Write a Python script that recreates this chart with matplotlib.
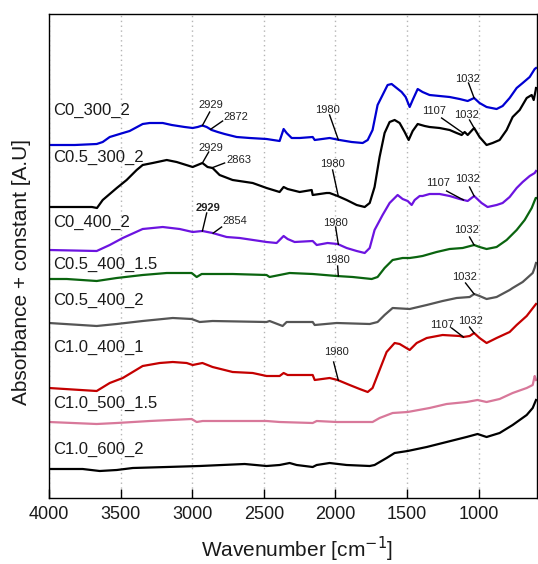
import numpy as np
import matplotlib
matplotlib.use("Agg")
import matplotlib.pyplot as plt

plt.rcParams['font.family'] = ['Liberation Sans', 'DejaVu Sans']

# ---- FTIR spectra (absorbance + vertical offset) ----
samples = ["C0_300_2", "C0.5_300_2", "C0_400_2", "C0.5_400_1.5",
           "C0.5_400_2", "C1.0_400_1", "C1.0_500_1.5", "C1.0_600_2"]
colors = ["#0000d2", "#000000", "#6c14e0", "#0a640f",
          "#555555", "#c40000", "#d8789a", "#000000"]

wn_c0_300_2 = [4000, 3820, 3667, 3625, 3576, 3507, 3437, 3346, 3297, 3206, 3143, 3053, 2997, 2962, 2929,
               2899, 2864, 2822, 2774, 2690, 2599, 2481, 2390, 2362, 2341, 2306, 2250, 2159, 2145, 2041,
               1971, 1887, 1810, 1775, 1741, 1706, 1671, 1636, 1608, 1573, 1538, 1510, 1482, 1461, 1426,
               1392, 1343, 1273, 1203, 1133, 1077, 1032, 994, 945, 875, 833, 784, 735, 693, 644, 609, 600]
ab_c0_300_2 = [3.53, 3.53, 3.54, 3.56, 3.61, 3.64, 3.67, 3.74, 3.75, 3.75, 3.73, 3.71, 3.70, 3.71, 3.725,
               3.71, 3.68, 3.66, 3.64, 3.61, 3.60, 3.59, 3.57, 3.69, 3.65, 3.60, 3.60, 3.61, 3.58, 3.60,
               3.58, 3.56, 3.55, 3.58, 3.68, 3.93, 4.03, 4.13, 4.14, 4.10, 4.06, 4.01, 3.91, 3.98, 4.09,
               4.06, 4.03, 4.02, 4.01, 3.99, 3.97, 4.00, 3.95, 3.91, 3.89, 3.92, 4.00, 4.10, 4.15, 4.21, 4.29, 4.30]

wn_c05_300_2 = [4000, 3700, 3665, 3625, 3527, 3458, 3388, 3346, 3276, 3178, 3109, 2997, 2929, 2893, 2858,
                2809, 2718, 2578, 2481, 2390, 2362, 2334, 2250, 2166, 2159, 2062, 2041, 1985, 1922, 1852,
                1796, 1761, 1727, 1692, 1657, 1622, 1587, 1552, 1517, 1489, 1461, 1426, 1377, 1343, 1273,
                1203, 1154, 1119, 1098, 1077, 1032, 994, 945, 903, 854, 805, 763, 714, 665, 630, 616, 602, 600]
ab_c05_300_2 = [2.91, 2.91, 2.90, 2.98, 3.10, 3.18, 3.28, 3.33, 3.35, 3.38, 3.36, 3.31, 3.35, 3.31, 3.30,
                3.23, 3.18, 3.15, 3.10, 3.06, 3.11, 3.09, 3.06, 3.08, 3.03, 3.05, 3.05, 3.02, 2.98, 2.93,
                2.91, 2.95, 3.11, 3.41, 3.65, 3.76, 3.78, 3.75, 3.66, 3.58, 3.67, 3.74, 3.72, 3.71, 3.70,
                3.68, 3.65, 3.63, 3.66, 3.63, 3.70, 3.61, 3.53, 3.55, 3.58, 3.68, 3.81, 3.88, 4.00, 4.03, 3.98, 4.08, 4.10]

wn_c0_400_2 = [4000, 3667, 3576, 3485, 3346, 3206, 3088, 2997, 2929, 2858, 2760, 2669, 2481, 2411, 2362,
               2334, 2285, 2159, 2131, 2055, 1985, 1922, 1852, 1796, 1761, 1727, 1671, 1622, 1566, 1531,
               1496, 1468, 1447, 1412, 1392, 1343, 1273, 1203, 1133, 1077, 1032, 980, 938, 875, 833,
               784, 735, 693, 644, 609, 600]
ab_c0_400_2 = [2.48, 2.47, 2.53, 2.60, 2.69, 2.71, 2.69, 2.66, 2.67, 2.65, 2.61, 2.60, 2.56, 2.55, 2.62,
               2.59, 2.56, 2.57, 2.53, 2.55, 2.54, 2.50, 2.47, 2.45, 2.50, 2.68, 2.83, 2.95, 3.03, 2.99,
               2.97, 2.93, 2.98, 3.02, 3.02, 3.04, 3.04, 3.02, 2.99, 2.97, 3.02, 2.95, 2.91, 2.93, 2.95,
               3.01, 3.10, 3.16, 3.22, 3.25, 3.27]

wn_c05_400_15 = [4000, 3876, 3667, 3527, 3346, 3178, 3004, 2969, 2934, 2718, 2481, 2460, 2320, 2159, 1992,
                 1880, 1747, 1706, 1657, 1601, 1531, 1482, 1433, 1392, 1294, 1203, 1112, 1032, 994, 945,
                 875, 805, 735, 679, 630, 602, 600]
ab_c05_400_15 = [2.19, 2.19, 2.17, 2.20, 2.23, 2.25, 2.25, 2.21, 2.24, 2.24, 2.23, 2.21, 2.25, 2.24, 2.22,
                 2.21, 2.19, 2.21, 2.30, 2.38, 2.40, 2.40, 2.41, 2.42, 2.46, 2.49, 2.50, 2.53, 2.51, 2.49,
                 2.51, 2.58, 2.68, 2.78, 2.90, 3.00, 3.00]

wn_c05_400_2 = [4000, 3667, 3527, 3346, 3136, 3004, 2948, 2858, 2481, 2460, 2369, 2341, 2159, 2145, 1992,
                1761, 1706, 1657, 1601, 1482, 1363, 1252, 1154, 1063, 1032, 994, 945, 875, 784, 763,
                693, 623, 610, 600]
ab_c05_400_2 = [1.75, 1.72, 1.74, 1.77, 1.80, 1.79, 1.76, 1.77, 1.76, 1.77, 1.72, 1.76, 1.76, 1.73, 1.75,
                1.74, 1.76, 1.83, 1.90, 1.89, 1.93, 1.97, 2.00, 2.01, 2.04, 2.02, 1.99, 2.01, 2.08, 2.10,
                2.16, 2.25, 2.30, 2.35]

wn_c10_400_1 = [4000, 3667, 3576, 3485, 3346, 3227, 3136, 3039, 2997, 2929, 2858, 2718, 2578, 2481, 2390,
                2362, 2334, 2159, 2145, 2041, 1985, 1901, 1831, 1775, 1741, 1692, 1643, 1587, 1552, 1517,
                1482, 1433, 1363, 1252, 1133, 1107, 1063, 1032, 994, 945, 875, 784, 735, 665, 600]
ab_c10_400_1 = [1.10, 1.07, 1.15, 1.20, 1.32, 1.35, 1.36, 1.35, 1.33, 1.35, 1.31, 1.26, 1.25, 1.22, 1.22,
                1.25, 1.23, 1.23, 1.18, 1.20, 1.18, 1.13, 1.09, 1.06, 1.10, 1.28, 1.46, 1.55, 1.54, 1.51,
                1.48, 1.55, 1.60, 1.63, 1.62, 1.61, 1.62, 1.65, 1.60, 1.55, 1.60, 1.66, 1.73, 1.82, 1.94]

wn_c10_500_15 = [4000, 3667, 3527, 3297, 3004, 2969, 2927, 2481, 2390, 2159, 2131, 1992, 1741, 1692, 1601,
                 1496, 1343, 1224, 1085, 1008, 945, 854, 763, 665, 623, 609, 600]
ab_c10_500_15 = [0.76, 0.74, 0.75, 0.77, 0.79, 0.76, 0.77, 0.77, 0.76, 0.75, 0.77, 0.76, 0.76, 0.80, 0.85,
                 0.86, 0.90, 0.94, 0.96, 0.98, 0.96, 0.99, 1.05, 1.10, 1.13, 1.22, 1.18]

wn_c10_600_2 = [4000, 3765, 3646, 3527, 3415, 3178, 2948, 2634, 2481, 2390, 2320, 2271, 2159, 2131, 2041,
                1922, 1761, 1727, 1643, 1587, 1496, 1363, 1224, 1085, 1008, 945, 854, 763, 665, 623, 600]
ab_c10_600_2 = [0.29, 0.29, 0.27, 0.28, 0.30, 0.31, 0.32, 0.34, 0.32, 0.33, 0.35, 0.33, 0.31, 0.33, 0.35,
                0.33, 0.32, 0.33, 0.40, 0.45, 0.47, 0.51, 0.56, 0.61, 0.64, 0.61, 0.65, 0.73, 0.83, 0.90, 0.98]

spectra = [(wn_c0_300_2, ab_c0_300_2), (wn_c05_300_2, ab_c05_300_2),
           (wn_c0_400_2, ab_c0_400_2), (wn_c05_400_15, ab_c05_400_15),
           (wn_c05_400_2, ab_c05_400_2), (wn_c10_400_1, ab_c10_400_1),
           (wn_c10_500_15, ab_c10_500_15), (wn_c10_600_2, ab_c10_600_2)]

# sample name positions (wavenumber, y)
label_x = 3968
label_y = [3.88, 3.41, 2.76, 2.34, 1.98, 1.51, 0.95, 0.49]

# peak annotations: (spectrum index, peak wavenumber, text x, text y, leader start x, leader start y, bold)
peaks = [
    (0, 2929, 2871, 3.93, 2878, 3.86, False),
    (0, 2872, 2697, 3.81, 2788, 3.77, False),
    (0, 1980, 2055, 3.88, 2041, 3.83, False),
    (0, 1032, 1078, 4.19, 1071, 4.15, False),
    (1, 2929, 2871, 3.50, 2885, 3.46, False),
    (1, 2863, 2676, 3.38, 2774, 3.35, False),
    (1, 1980, 2020, 3.34, 2020, 3.28, False),
    (1, 1107, 1315, 3.87, 1259, 3.80, False),
    (1, 1032, 1085, 3.83, 1064, 3.78, False),
    (2, 2929, 2892, 2.90, 2899, 2.85, True),
    (2, 2854, 2704, 2.77, 2795, 2.71, False),
    (2, 1980, 1999, 2.75, 1999, 2.71, False),
    (2, 1107, 1287, 3.15, 1224, 3.07, False),
    (2, 1032, 1078, 3.19, 1064, 3.11, False),
    (3, 1980, 1985, 2.38, 1985, 2.32, False),
    (3, 1032, 1085, 2.68, 1064, 2.61, False),
    (4, 1032, 1099, 2.21, 1092, 2.15, False),
    (5, 1980, 1992, 1.46, 2013, 1.36, False),
    (5, 1107, 1259, 1.73, 1189, 1.70, False),
    (5, 1032, 1057, 1.77, 1064, 1.71, False),
]

x_ticks = [4000, 3500, 3000, 2500, 2000, 1500, 1000]

fig = plt.figure(figsize=(5.38, 5.64), dpi=100)
ax = fig.add_axes([49 / 538, 1 - 498 / 564, 488 / 538, 484 / 564])

for (wn, ab), c in zip(spectra, colors):
    ax.plot(wn, ab, color=c, lw=1.6, solid_joinstyle='round')

for name, ly in zip(samples, label_y):
    ax.text(label_x, ly, name, fontsize=12, color='#1a1a1a', ha='left', va='center')

for idx, pk, tx, ty, sx, sy, bold in peaks:
    wn, ab = spectra[idx]
    py = np.interp(pk, wn[::-1], ab[::-1])
    ax.plot([sx, pk], [sy, py], color='black', lw=1.0)
    ax.text(tx, ty, str(pk), fontsize=8, color='#222222', ha='center', va='center',
            fontweight='bold' if bold else 'normal')

ax.set_xlim(4000, 593)
ax.set_ylim(0, 4.84)
ax.set_xticks(x_ticks)
ax.set_yticks([])
ax.tick_params(axis='x', direction='in', length=6.5, width=1, labelsize=13, pad=6,
               top=False, colors='black', labelcolor='#1a1a1a')
ax.grid(axis='x', linestyle=(0, (1, 2.5)), color='#b5b5b5', lw=1)
for s in ax.spines.values():
    s.set_linewidth(1.0)

fig.text(297 / 538, 1 - 549 / 564, r'Wavenumber [cm$^{-1}$]', fontsize=15,
         ha='center', va='center', color='#1a1a1a')
fig.text(22 / 538, 1 - 272 / 564, 'Absorbance + constant [A.U]', fontsize=15,
         rotation=90, ha='center', va='center', color='#1a1a1a')

fig.savefig('out.png', dpi=100)
